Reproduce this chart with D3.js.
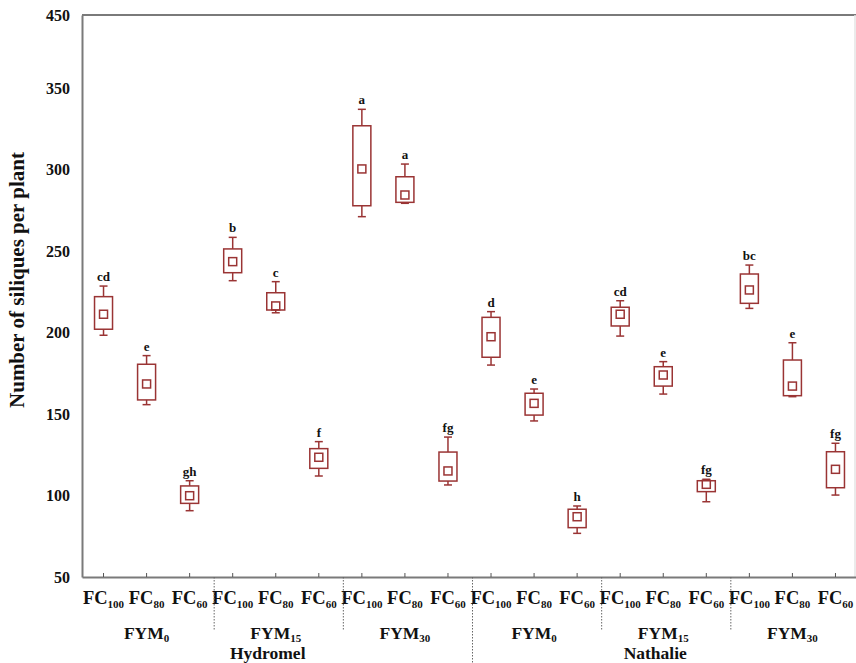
<!DOCTYPE html>
<html><head><meta charset="utf-8">
<script src="https://cdn.jsdelivr.net/npm/d3@7/dist/d3.min.js"></script>
<style>body{margin:0;background:#fff}svg{display:block}text{font-family:"Liberation Serif","Times New Roman",serif;font-weight:bold}</style>
</head><body><div id="chart"></div>
<script>
const cultivars = ["Hydromel", "Nathalie"];
const fymSubs = ["0", "15", "30"];
const fcSubs = ["100", "80", "60"];
const whiskerHigh = [228.6,185.9,109.1, 258.5,231.3,133.1, 337.1,303.5,135.9, 212.9,165.4,93.6, 219.6,182.2,110.0, 241.5,193.8,132.1];
const boxHigh     = [222.1,180.6,105.9, 251.4,224.5,128.8, 327.0,295.7,126.7, 209.4,162.8,91.6, 215.6,179.1,109.1, 236.0,183.2,126.9];
const means       = [211.3,168.5,99.9,  243.6,216.4,123.5, 300.5,284.5,115.1, 197.5,156.6,87.0, 211.3,174.0,106.9, 226.2,167.2,116.1];
const boxLow      = [202.1,158.7,95.2,  236.8,213.9,116.7, 277.9,280.0,108.9, 184.9,149.4,80.3, 204.1,167.2,102.4, 218.0,161.3,104.8];
const whiskerLow  = [198.4,155.8,90.7,  231.9,212.2,112.0, 271.2,279.4,106.5, 180.1,145.8,76.8, 197.9,162.3,96.2,  214.9,160.7,100.3];
const letters     = ["cd","e","gh", "b","c","f", "a","a","fg", "d","e","h", "cd","e","fg", "bc","e","fg"];
const yTickValues = [50,100,150,200,250,300,350,395];
const yTickLabels = ["50","100","150","200","250","300","350","450"];
const yTitle = "Number of siliques per plant";

(function () {
const W = 856, H = 663;
const pl = 82, pr = 856, pt = 15, pb = 577;
const col = "#9a3434";
const svg = d3.select("#chart").append("svg").attr("width", W).attr("height", H);

const idx = d3.range(18);
const x = d3.scaleBand().domain(idx).range([pl, 857]).padding(0);
const y = d3.scaleLinear().domain([50, 395]).range([pb, pt]);
const cx = i => x(i) + x.bandwidth() / 2;

// frame
svg.append("line").attr("x1", pl).attr("x2", pr).attr("y1", pt).attr("y2", pt).attr("stroke", "#7a7a7a").attr("stroke-width", 2);
svg.append("line").attr("x1", 855).attr("x2", 855).attr("y1", pt).attr("y2", pb).attr("stroke", "#e4e4e4").attr("stroke-width", 1.5);

// y axis
const yAxis = d3.axisLeft(y).tickValues(yTickValues).tickSize(0).tickPadding(12)
  .tickFormat((d, i) => yTickLabels[i]);
const gy = svg.append("g").attr("transform", `translate(${pl},0)`).call(yAxis);
gy.select(".domain").attr("stroke", "#7a7a7a").attr("stroke-width", 2);
gy.selectAll("text").attr("font-size", 16).attr("fill", "#111").style("font-family", '"Liberation Serif",serif').style("font-weight", "bold");

// x axis
const xAxis = d3.axisBottom(x).tickSizeInner(-4).tickSizeOuter(0).tickFormat("");
const gx = svg.append("g").attr("transform", `translate(0,${pb})`).call(xAxis);
gx.select(".domain").attr("stroke", "#7a7a7a").attr("stroke-width", 2);
gx.selectAll(".tick line").attr("stroke", "#555").attr("stroke-width", 1);

// FC labels
idx.forEach(i => {
  const t = svg.append("text").attr("x", cx(i)).attr("y", 604).attr("text-anchor", "middle").attr("font-size", 18.5).attr("fill", "#111");
  t.append("tspan").text("FC");
  t.append("tspan").attr("font-size", 11).attr("dy", 4).text(fcSubs[i % 3]);
});

// FYM labels
d3.range(6).forEach(g => {
  const mid = cx(g * 3 + 1);
  const t = svg.append("text").attr("x", mid).attr("y", 639).attr("text-anchor", "middle").attr("font-size", 17.5).attr("fill", "#111");
  t.append("tspan").text("FYM");
  t.append("tspan").attr("font-size", 11).attr("dy", 3).text(fymSubs[g % 3]);
});

// cultivar labels
cultivars.forEach((c, k) => {
  svg.append("text").attr("x", cx(k * 9 + 4) - 8).attr("y", 659).attr("text-anchor", "middle").attr("font-size", 17.5).attr("fill", "#111").text(c);
});

// dividers
d3.range(1, 6).forEach(g => {
  const xx = (cx(g * 3 - 1) + cx(g * 3)) / 2 + 3;
  svg.append("line").attr("x1", xx).attr("x2", xx).attr("y1", pb).attr("y2", g === 3 ? H : 630)
    .attr("stroke", "#666").attr("stroke-width", 1).attr("stroke-dasharray", "1.5,1.5");
});

// y title
svg.append("text").attr("transform", `translate(24,280) rotate(-90)`).attr("text-anchor", "middle")
  .attr("font-size", 21).attr("fill", "#111").text(yTitle);

// boxes
const bw = 18, cap = 8, ms = 8;
const g = svg.append("g").attr("fill", "none").attr("stroke", col).attr("stroke-width", 1.5);
idx.forEach(i => {
  const c = cx(i);
  g.append("line").attr("x1", c).attr("x2", c).attr("y1", y(whiskerHigh[i])).attr("y2", y(boxHigh[i]));
  g.append("line").attr("x1", c).attr("x2", c).attr("y1", y(boxLow[i])).attr("y2", y(whiskerLow[i]));
  g.append("line").attr("x1", c - cap / 2).attr("x2", c + cap / 2).attr("y1", y(whiskerHigh[i])).attr("y2", y(whiskerHigh[i]));
  g.append("line").attr("x1", c - cap / 2).attr("x2", c + cap / 2).attr("y1", y(whiskerLow[i])).attr("y2", y(whiskerLow[i]));
  g.append("rect").attr("x", c - bw / 2).attr("y", y(boxHigh[i])).attr("width", bw).attr("height", y(boxLow[i]) - y(boxHigh[i]));
  g.append("rect").attr("x", c - ms / 2).attr("y", y(means[i]) - ms / 2).attr("width", ms).attr("height", ms);
  svg.append("text").attr("x", c).attr("y", y(whiskerHigh[i]) - 5).attr("text-anchor", "middle").attr("font-size", 13).attr("fill", "#111").text(letters[i]);
});
})();
</script></body></html>
